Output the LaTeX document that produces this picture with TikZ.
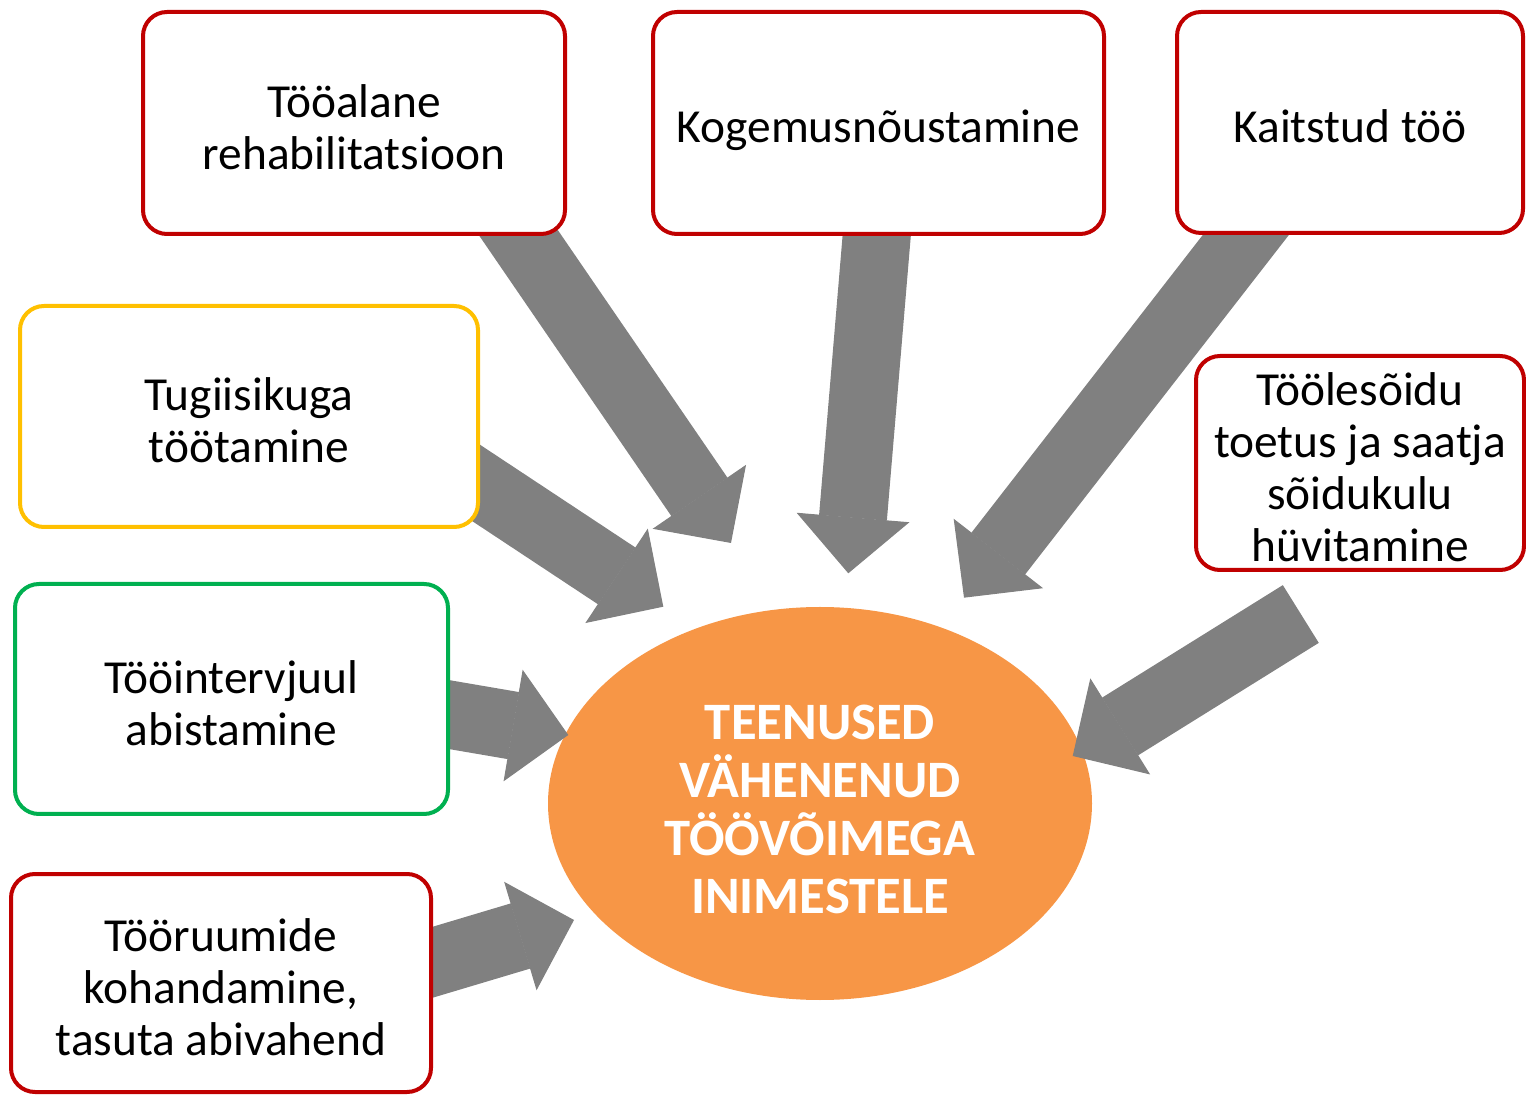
\documentclass[tikz,border=0pt]{standalone}
\usepackage{fontspec}
\setmainfont{Carlito}
\usepackage{xcolor}
\usetikzlibrary{arrows.meta,positioning,shapes.geometric}
\definecolor{boxred}{HTML}{C00000}
\definecolor{boxyellow}{HTML}{FFC000}
\definecolor{boxgreen}{HTML}{00B050}
\definecolor{arrowgray}{HTML}{808080}
\definecolor{hubfill}{HTML}{F79646}
\pgfdeclarelayer{back}
\pgfdeclarelayer{arrows}
\pgfsetlayers{back,arrows,main}

\begin{document}
\begin{tikzpicture}[
  x=0.5pt, y=-0.5pt,
  % the argument is the strut above the last baseline
  box/.style={rectangle, draw=boxred, line width=2pt, rounded corners=12pt,
    fill=white, align=center, inner sep=0pt,
    font=\fontsize{23.7}{26}\selectfont,
    execute at begin node={\rule{0pt}{#1}},
    execute at end node={\rule[-2.9pt]{0pt}{2.9pt}}},
  box/.default=23.1pt,
  hub/.style={ellipse, fill=hubfill, text=white, align=center, inner sep=0pt,
    minimum width=272pt, minimum height=196.5pt,
    font=\bfseries\fontsize{26.3}{29}\selectfont,
    execute at begin node={\rule{0pt}{112.8pt}},
    execute at end node={\rule[-3.2pt]{0pt}{3.2pt}}},
  bigarrow/.style={line width=34pt, draw=arrowgray,
    -{Triangle[length=28pt, width=56.5pt, line width=0.6pt]}}
]
  \useasboundingbox (0,0) rectangle (1526,1095);

  % Centre: the services
  \begin{pgfonlayer}{back}
    \node[hub] (hub) at (820,803.5) {TEENUSED\\VÄHENENUD\\TÖÖVÕIMEGA\\INIMESTELE};
  \end{pgfonlayer}

  % Top row
  \node[box=49.1pt, minimum width=211pt, minimum height=111pt] (reha) at (354,123)
    {Tööalane\\rehabilitatsioon};
  \node[box, minimum width=225.5pt, minimum height=111pt] (kogemus) at (878.5,123)
    {Kogemusnõustamine};
  \node[box, minimum width=173pt, minimum height=110.5pt] (kaitstud) at (1350,122.5)
    {Kaitstud töö};

  % Left column
  \node[box=49.1pt, draw=boxyellow, minimum width=229pt, minimum height=110.5pt] (tugi)
    at (249,416.5) {Tugiisikuga\\töötamine};
  \node[box=49.1pt, draw=boxgreen, minimum width=216.5pt, minimum height=115pt] (intervjuu)
    at (231.5,699) {Tööintervjuul\\abistamine};
  \node[box=75.1pt, minimum width=210pt, minimum height=109pt] (ruumid) at (221,983)
    {Tööruumide\\kohandamine,\\tasuta abivahend};

  % Right side
  \node[box=101.1pt, minimum width=164pt, minimum height=107pt] (soit) at (1360,463)
    {Töölesõidu\\toetus ja saatja\\sõidukulu\\hüvitamine};

  % Arrow tips near the ellipse
  \coordinate (tip1) at (731,543);
  \coordinate (tip2) at (848.3,573.3);
  \coordinate (tip3) at (964,597.7);
  \coordinate (tip4) at (663.3,606.7);
  \coordinate (tip5) at (568.3,735);
  \coordinate (tip6) at (574,920);
  \coordinate (tip7) at (1072.7,756);

  % Block arrows, under the boxes
  \begin{pgfonlayer}{arrows}
    \draw[bigarrow] ([shift={(142,77)}]reha.center) -- (tip1);
    \draw[bigarrow] ([shift={(1.2,77)}]kogemus.center) -- (tip2);
    \draw[bigarrow] ([shift={(-77,77.5)}]kaitstud.center) -- (tip3);
    \draw[bigarrow] ([shift={(189.7,41.7)}]tugi.center) -- (tip4);
    \draw[bigarrow] ([shift={(188.5,10.6)}]intervjuu.center) -- (tip5);
    \draw[bigarrow] ([shift={(179,-11)}]ruumid.center) -- (tip6);
    \draw[bigarrow] ([shift={(-59.2,151)}]soit.center) -- (tip7);
  \end{pgfonlayer}
\end{tikzpicture}
\end{document}
